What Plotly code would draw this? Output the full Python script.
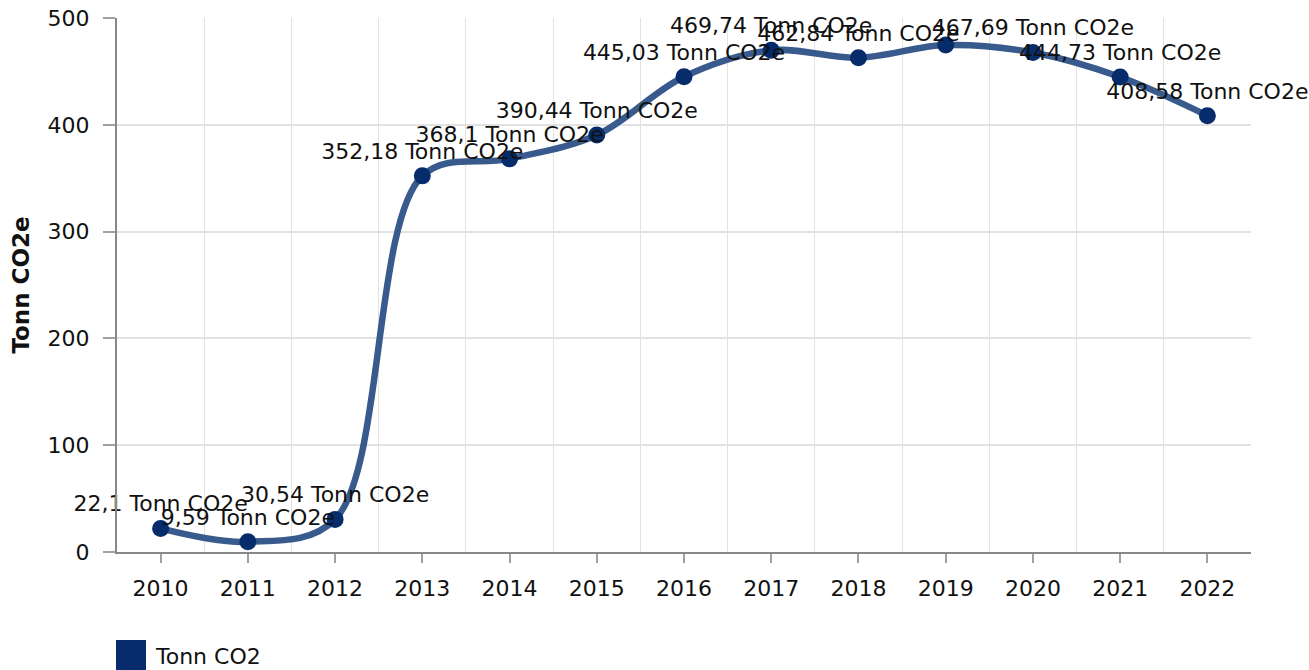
import plotly.graph_objects as go

years = ["2010", "2011", "2012", "2013", "2014", "2015", "2016",
         "2017", "2018", "2019", "2020", "2021", "2022"]
values = [22.1, 9.59, 30.54, 352.18, 368.1, 390.44, 445.03,
          469.74, 462.84, 474.7, 467.69, 444.73, 408.58]
# labels hidden in the reference due to overlap
hidden_labels = ["2019"]
series_name = "Tonn CO2"
unit = "Tonn CO2e"
y_ticks = [0, 100, 200, 300, 400, 500]


def fmt(v):
    s = ("%.2f" % v).rstrip("0").rstrip(".")
    return s.replace(".", ",")


labels = ["" if y in hidden_labels else f"{fmt(v)} {unit}" for y, v in zip(years, values)]
xs = list(range(len(years)))

FONT = "DejaVu Sans, Verdana, sans-serif"
FS = 22
LINE_COLOR = "#395a8d"
MARK_COLOR = "#072c6b"

fig = go.Figure()
fig.add_trace(go.Scatter(
    x=xs, y=values, name=series_name,
    mode="lines+markers+text",
    line=dict(color=LINE_COLOR, width=6.5, shape="spline", smoothing=1.0),
    marker=dict(color=MARK_COLOR, size=17),
    text=labels, textposition="top center",
    textfont=dict(family=FONT, size=FS, color="#111111"),
    cliponaxis=False, showlegend=False,
))

fig.update_layout(
    width=1309, height=670,
    margin=dict(l=117, r=58, t=18, b=118, autoexpand=False),
    plot_bgcolor="white", paper_bgcolor="white",
    font=dict(family=FONT, size=FS, color="#111111"),
    xaxis=dict(
        automargin=False,
        range=[-0.5, len(years) - 0.5],
        tickmode="array", tickvals=xs, ticktext=years,
        showgrid=False, zeroline=False,
        ticks="outside", ticklen=9, tickcolor="#a0a0a0", tickwidth=2,
        ticklabelstandoff=7,
        showline=True, linecolor="#888888", linewidth=2,
        minor=dict(tick0=0.5, dtick=1, showgrid=True, gridcolor="#e2e2e2",
                   gridwidth=1, ticks=""),
        tickfont=dict(size=FS),
    ),
    yaxis=dict(
        automargin=False,
        range=[0, 500], tickmode="array", tickvals=y_ticks,
        showgrid=True, gridcolor="#e2e2e2", gridwidth=1.5,
        zeroline=False,
        ticks="outside", ticklen=12, tickcolor="#a0a0a0", tickwidth=2,
        ticklabelstandoff=9,
        showline=True, linecolor="#888888", linewidth=2,
        title=dict(text="<b>Tonn CO2e</b>", font=dict(size=23), standoff=12),
        tickfont=dict(size=FS),
    ),
)

# legend drawn as a square swatch + text at bottom left
fig.add_shape(type="rect", xref="paper", yref="paper",
              x0=-1 / 1134, x1=29 / 1134, y0=-120 / 534, y1=-88 / 534,
              fillcolor=MARK_COLOR, line=dict(width=0))
fig.add_annotation(xref="paper", yref="paper", x=36 / 1134, y=-104 / 534,
                   text=series_name, showarrow=False, xanchor="left", yanchor="middle",
                   font=dict(family=FONT, size=FS, color="#111111"))

fig.write_html("out.html", config={"displayModeBar": False},
               post_script="document.body.style.margin='0';document.body.style.overflow='hidden';")
